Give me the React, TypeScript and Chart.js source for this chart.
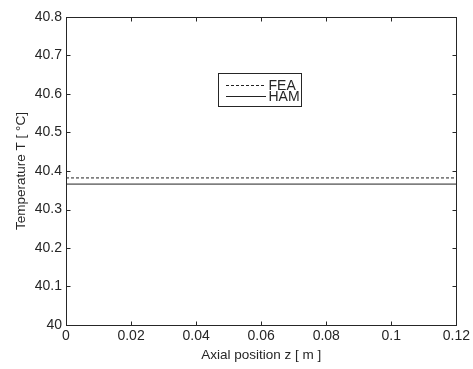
import React, { useEffect, useRef } from "react";
import { Chart, registerables } from "chart.js";

Chart.register(...registerables);

const zPositions = [0, 0.12];
const feaValues = [40.382, 40.382];
const hamValues = [40.366, 40.366];
const seriesNames = ["FEA", "HAM"];
const xTicks = [0, 0.02, 0.04, 0.06, 0.08, 0.1, 0.12];
const yTicks = [40, 40.1, 40.2, 40.3, 40.4, 40.5, 40.6, 40.7, 40.8];

const FONT = "'Liberation Sans', Arial, sans-serif";
const INK = "#262626";

const boxPlugin = {
  id: "matlabBox",
  afterDraw(chart: any) {
    const { ctx, chartArea: a, scales } = chart;
    ctx.save();
    ctx.strokeStyle = INK;
    ctx.lineWidth = 1;
    const L = Math.round(a.left) + 0.5;
    const R = Math.round(a.right) + 0.5;
    const T = Math.round(a.top) + 0.5;
    const B = Math.round(a.bottom) + 0.5;
    ctx.strokeRect(L, T, R - L, B - T);
    const tl = 4;
    ctx.beginPath();
    xTicks.forEach((v) => {
      const x = Math.round(scales.x.getPixelForValue(v)) + 0.5;
      ctx.moveTo(x, B);
      ctx.lineTo(x, B - tl);
      ctx.moveTo(x, T);
      ctx.lineTo(x, T + tl);
    });
    yTicks.forEach((v) => {
      const y = Math.round(scales.y.getPixelForValue(v)) + 0.5;
      ctx.moveTo(L, y);
      ctx.lineTo(L + tl, y);
      ctx.moveTo(R, y);
      ctx.lineTo(R - tl, y);
    });
    ctx.stroke();

    // legend
    const lx = 218.5, ly = 73.5, lw = 83, lh = 33;
    ctx.fillStyle = "#fff";
    ctx.fillRect(lx, ly, lw, lh);
    ctx.strokeStyle = INK;
    ctx.strokeRect(lx, ly, lw, lh);
    ctx.font = "14px " + FONT;
    ctx.textBaseline = "middle";
    chart.data.datasets.forEach((ds: any, i: number) => {
      const yy = Math.round(ly + 11 + i * 11) + 0.5;
      ctx.beginPath();
      ctx.setLineDash(ds.borderDash || []);
      ctx.strokeStyle = ds.borderColor;
      ctx.moveTo(226, yy);
      ctx.lineTo(266, yy);
      ctx.stroke();
      ctx.setLineDash([]);
      ctx.fillStyle = INK;
      ctx.fillText(ds.label, 268.5, yy + 0.5);
    });
    ctx.restore();
  },
};

export default function App() {
  const ref = useRef<HTMLCanvasElement>(null);
  useEffect(() => {
    document.body.style.margin = "0";
    const chart = new Chart(ref.current!, {
      type: "line",
      data: {
        datasets: [
          {
            label: seriesNames[0],
            data: zPositions.map((z, i) => ({ x: z, y: feaValues[i] })),
            borderColor: "#222",
            borderWidth: 1,
            borderDash: [3, 2],
            pointRadius: 0,
          },
          {
            label: seriesNames[1],
            data: zPositions.map((z, i) => ({ x: z, y: hamValues[i] })),
            borderColor: "#222",
            borderWidth: 1,
            pointRadius: 0,
          },
        ],
      },
      options: {
        animation: false,
        responsive: false,
        layout: { padding: { top: 17, right: 16, left: 0, bottom: 0 } },
        plugins: { legend: { display: false }, tooltip: { enabled: false } },
        scales: {
          x: {
            type: "linear",
            min: 0,
            max: 0.12,
            afterBuildTicks: (s: any) => {
              s.ticks = xTicks.map((v) => ({ value: v }));
            },
            afterFit: (s: any) => {
              s.height = 44;
            },
            grid: { display: false, drawTicks: false },
            border: { display: false },
            ticks: {
              color: INK,
              font: { family: FONT, size: 14 },
              padding: 3,
              maxRotation: 0,
              callback: (v: any) => String(v),
            },
            title: {
              display: true,
              text: "Axial position z [ m ]",
              color: INK,
              font: { family: FONT, size: 13.5 },
              padding: { top: 0, bottom: 6 },
            },
          },
          y: {
            min: 40,
            max: 40.8,
            afterBuildTicks: (s: any) => {
              s.ticks = yTicks.map((v) => ({ value: v }));
            },
            afterFit: (s: any) => {
              s.width = 66;
            },
            grid: { display: false, drawTicks: false },
            border: { display: false },
            ticks: {
              color: INK,
              font: { family: FONT, size: 14 },
              padding: 4,
              callback: (v: any) => String(Math.round(v * 10) / 10),
            },
            title: {
              display: true,
              text: "Temperature T [ °C]",
              color: INK,
              font: { family: FONT, size: 13.5 },
              padding: { top: 13, bottom: 0 },
            },
          },
        },
      },
      plugins: [boxPlugin],
    } as any);
    return () => chart.destroy();
  }, []);
  return <canvas ref={ref} width={473} height={369} style={{ display: "block" }} />;
}
